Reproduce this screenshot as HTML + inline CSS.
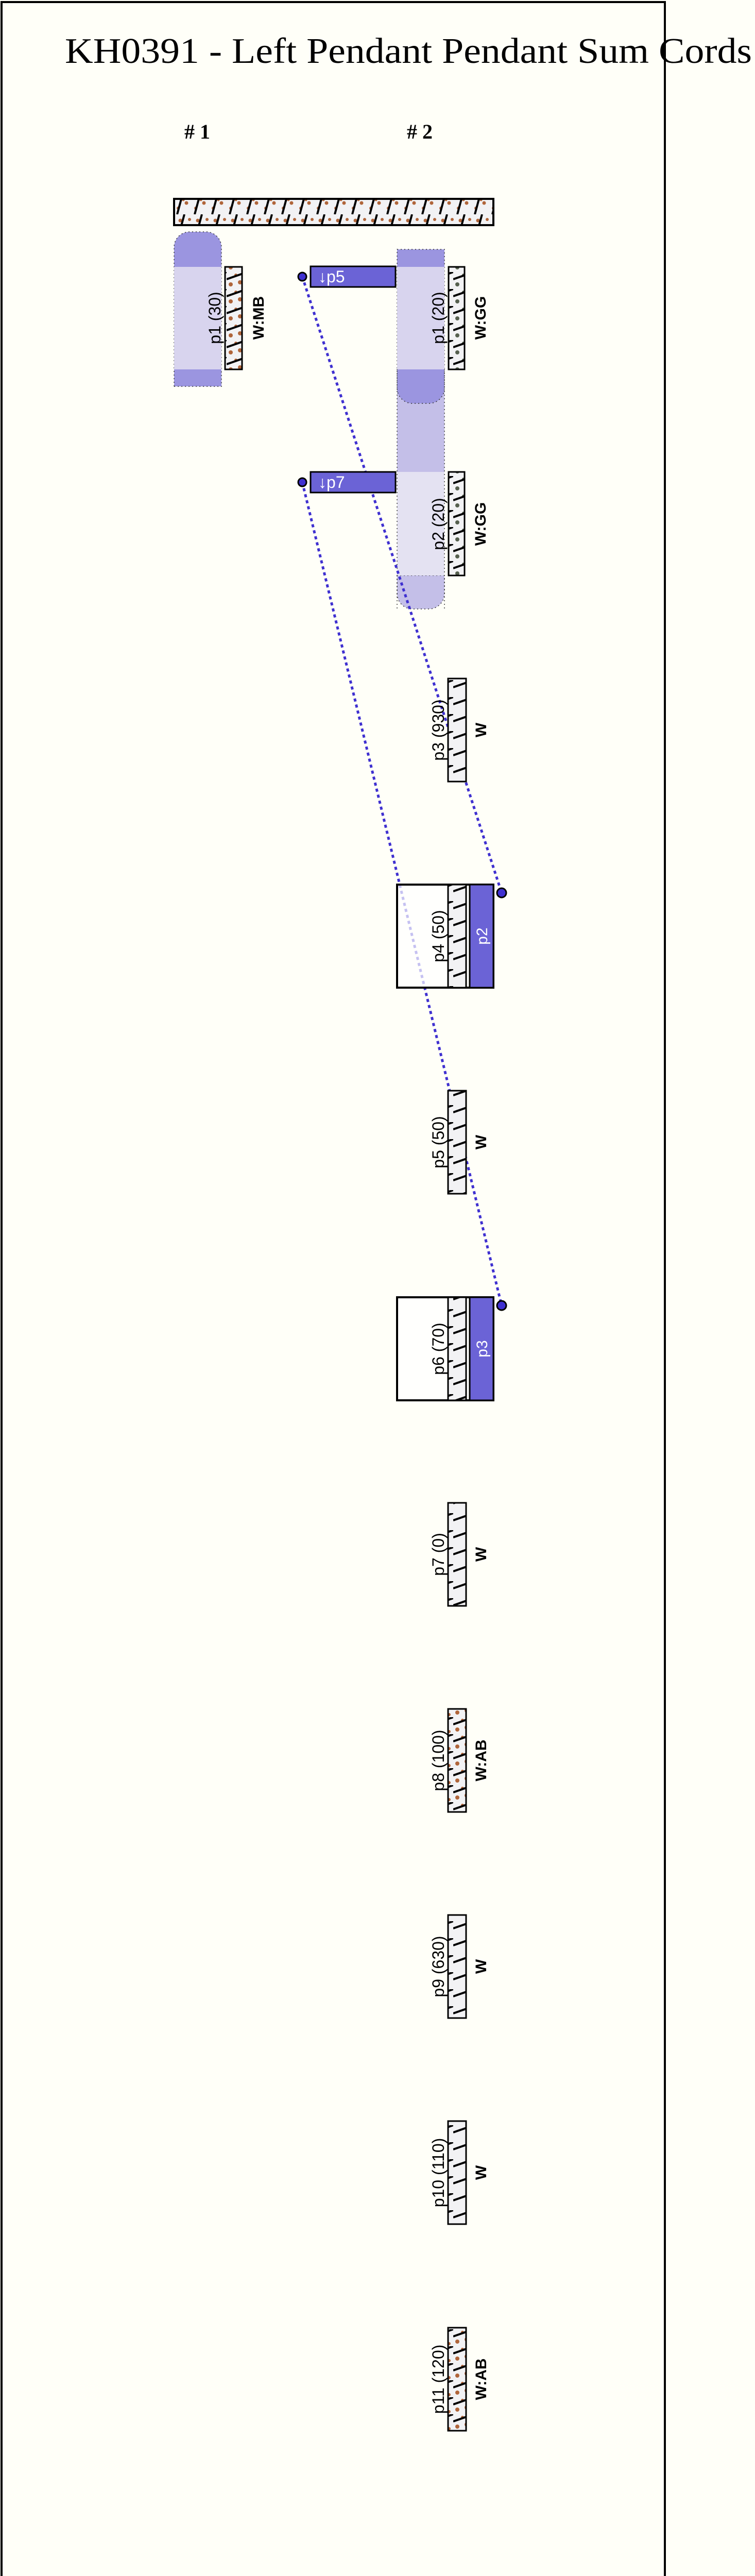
<!DOCTYPE html>
<html><head><meta charset="utf-8"><style>
html,body{margin:0;padding:0;background:#fffff8;width:1466px;height:5254px;overflow:hidden;}
svg{display:block;}
.lbl{font-family:"Liberation Sans",sans-serif;font-size:32px;fill:#000;}
.w{font-family:"Liberation Sans",sans-serif;font-size:30px;font-weight:bold;fill:#000;}
</style></head><body>
<svg width="1466" height="5254" viewBox="0 0 1466 5254" xmlns="http://www.w3.org/2000/svg" overflow="hidden">
<defs>
<pattern id="hw" width="40" height="33" patternUnits="userSpaceOnUse">
<rect width="40" height="33" fill="#f2f2f4"/>
<line x1="0" y1="14" x2="40" y2="0" stroke="#000" stroke-width="4"/>
</pattern>
<pattern id="hb" width="40" height="33" patternUnits="userSpaceOnUse">
<rect width="40" height="33" fill="#f2f2f4"/>
<circle cx="8" cy="24" r="4" fill="#b0653a"/><circle cx="26" cy="20" r="4" fill="#b0653a"/>
<circle cx="18" cy="6" r="3" fill="#b0653a"/><circle cx="32" cy="28" r="3" fill="#b0653a"/>
<line x1="0" y1="14" x2="40" y2="0" stroke="#000" stroke-width="4"/>
</pattern>
<pattern id="hg" width="40" height="33" patternUnits="userSpaceOnUse">
<rect width="40" height="33" fill="#f2f2f4"/>
<circle cx="8" cy="24" r="4" fill="#56604f"/><circle cx="26" cy="20" r="4" fill="#56604f"/>
<circle cx="20" cy="6" r="3" fill="#56604f"/>
<line x1="0" y1="14" x2="40" y2="0" stroke="#000" stroke-width="4"/>
</pattern>
<pattern id="hbar" width="34" height="52" patternUnits="userSpaceOnUse">
<rect width="34" height="52" fill="#f2f2f4"/>
<circle cx="10" cy="12" r="3.5" fill="#b0653a"/><circle cx="22" cy="30" r="3.5" fill="#b0653a"/>
<circle cx="6" cy="40" r="3" fill="#b0653a"/><circle cx="28" cy="10" r="3" fill="#b0653a"/>
<circle cx="16" cy="24" r="2.5" fill="#b0653a"/>
<line x1="4" y1="52" x2="18" y2="0" stroke="#000" stroke-width="4"/>
</pattern>
</defs>
<rect x="0" y="0" width="1466" height="5254" fill="#fffff8"/>
<rect x="3" y="4" width="1288" height="5246" fill="#fffff8" stroke="#000" stroke-width="4"/>
<text x="126" y="122" font-family="Liberation Serif,serif" font-size="70" textLength="1334" lengthAdjust="spacingAndGlyphs">KH0391 - Left Pendant Pendant Sum Cords</text>
<text x="358" y="269" font-family="Liberation Serif,serif" font-size="40" font-weight="bold">#&#160;1</text>
<text x="790" y="269" font-family="Liberation Serif,serif" font-size="40" font-weight="bold">#&#160;2</text>

<rect x="338" y="386" width="620" height="51" fill="url(#hbar)" stroke="#000" stroke-width="4"/>

<path d="M338,750 V480 a30,30 0 0 1 30,-30 h32 a30,30 0 0 1 30,30 V750 Z" fill="#9b95e0" stroke="#333" stroke-width="1.5" stroke-dasharray="2 5"/>
<rect x="338" y="518" width="92" height="199" fill="#d8d4ee"/>
<rect x="437" y="518" width="33" height="199" fill="url(#hb)" stroke="#000" stroke-width="3"/>
<text class="lbl" transform="translate(428,617) rotate(-90)" text-anchor="middle">p1 (30)</text>
<text class="w" transform="translate(512,617) rotate(-90)" text-anchor="middle">W:MB</text>

<rect x="771" y="717" width="92" height="200" fill="#c4bfe8"/>
<path d="M771,1117 V1152 a30,30 0 0 0 30,30 h32 a30,30 0 0 0 30,-30 V1117 Z" fill="#c4bfe8" stroke="#333" stroke-width="1.5" stroke-dasharray="2 5"/>
<rect x="771" y="916" width="92" height="201" fill="#e4e2f2"/>
<path d="M771,484 H863 V753 a30,30 0 0 1 -30,30 h-32 a30,30 0 0 1 -30,-30 Z" fill="#9b95e0" stroke="#333" stroke-width="1.5" stroke-dasharray="2 5"/>
<rect x="771" y="518" width="92" height="199" fill="#d8d4ee"/>
<line x1="771" y1="717" x2="771" y2="1182" stroke="#333" stroke-width="1.5" stroke-dasharray="2 5"/>
<line x1="863" y1="717" x2="863" y2="1182" stroke="#333" stroke-width="1.5" stroke-dasharray="2 5"/>
<rect x="871" y="518" width="31" height="199" fill="url(#hg)" stroke="#000" stroke-width="3"/>
<rect x="871" y="916" width="31" height="201" fill="url(#hg)" stroke="#000" stroke-width="3"/>
<text class="lbl" transform="translate(862,617) rotate(-90)" text-anchor="middle">p1 (20)</text>
<text class="w" transform="translate(943,617) rotate(-90)" text-anchor="middle">W:GG</text>
<text class="lbl" transform="translate(862,1017) rotate(-90)" text-anchor="middle">p2 (20)</text>
<text class="w" transform="translate(943,1017) rotate(-90)" text-anchor="middle">W:GG</text>

<line x1="587" y1="537" x2="974" y2="1733" stroke="#3f30d0" stroke-width="5" stroke-dasharray="6 6"/>
<line x1="587" y1="936" x2="974" y2="2534" stroke="#3f30d0" stroke-width="5" stroke-dasharray="6 6"/>

<rect x="603" y="517" width="165" height="40" fill="#6b63d6" stroke="#000" stroke-width="3"/>
<text x="618" y="548" font-family="Liberation Sans,sans-serif" font-size="32" fill="#fff">↓p5</text>
<circle cx="587" cy="537" r="8" fill="#3f30d0" stroke="#000" stroke-width="3"/>
<rect x="603" y="916" width="165" height="40" fill="#6b63d6" stroke="#000" stroke-width="3"/>
<text x="618" y="947" font-family="Liberation Sans,sans-serif" font-size="32" fill="#fff">↓p7</text>
<circle cx="587" cy="936" r="8" fill="#3f30d0" stroke="#000" stroke-width="3"/>

<rect x="870" y="1317" width="35" height="200" fill="url(#hw)" stroke="#000" stroke-width="3"/>
<text class="lbl" transform="translate(862,1417) rotate(-90)" text-anchor="middle">p3 (930)</text>
<text class="w" transform="translate(944,1417) rotate(-90)" text-anchor="middle">W</text>

<rect x="771" y="1717" width="187" height="200" fill="#fff" fill-opacity="0.7" stroke="#000" stroke-width="4"/>
<rect x="870" y="1717" width="35" height="200" fill="url(#hw)" stroke="#000" stroke-width="3"/>
<rect x="912" y="1717" width="46" height="200" fill="#6b63d6" stroke="#000" stroke-width="3"/>
<text class="lbl" transform="translate(862,1817) rotate(-90)" text-anchor="middle">p4 (50)</text>
<text transform="translate(946,1817) rotate(-90)" text-anchor="middle" font-family="Liberation Sans,sans-serif" font-size="30" fill="#fff">p2</text>
<circle cx="974" cy="1733" r="9" fill="#3f30d0" stroke="#000" stroke-width="3"/>

<rect x="870" y="2117" width="35" height="200" fill="url(#hw)" stroke="#000" stroke-width="3"/>
<text class="lbl" transform="translate(862,2217) rotate(-90)" text-anchor="middle">p5 (50)</text>
<text class="w" transform="translate(944,2217) rotate(-90)" text-anchor="middle">W</text>

<rect x="771" y="2518" width="187" height="200" fill="#fff" fill-opacity="0.7" stroke="#000" stroke-width="4"/>
<rect x="870" y="2518" width="35" height="200" fill="url(#hw)" stroke="#000" stroke-width="3"/>
<rect x="912" y="2518" width="46" height="200" fill="#6b63d6" stroke="#000" stroke-width="3"/>
<text class="lbl" transform="translate(862,2618) rotate(-90)" text-anchor="middle">p6 (70)</text>
<text transform="translate(946,2618) rotate(-90)" text-anchor="middle" font-family="Liberation Sans,sans-serif" font-size="30" fill="#fff">p3</text>
<circle cx="974" cy="2534" r="9" fill="#3f30d0" stroke="#000" stroke-width="3"/>

<rect x="870" y="2917" width="35" height="200" fill="url(#hw)" stroke="#000" stroke-width="3"/>
<text class="lbl" transform="translate(862,3017) rotate(-90)" text-anchor="middle">p7 (0)</text>
<text class="w" transform="translate(944,3017) rotate(-90)" text-anchor="middle">W</text>

<rect x="870" y="3317" width="35" height="200" fill="url(#hb)" stroke="#000" stroke-width="3"/>
<text class="lbl" transform="translate(862,3417) rotate(-90)" text-anchor="middle">p8 (100)</text>
<text class="w" transform="translate(944,3417) rotate(-90)" text-anchor="middle">W:AB</text>

<rect x="870" y="3717" width="35" height="200" fill="url(#hw)" stroke="#000" stroke-width="3"/>
<text class="lbl" transform="translate(862,3817) rotate(-90)" text-anchor="middle">p9 (630)</text>
<text class="w" transform="translate(944,3817) rotate(-90)" text-anchor="middle">W</text>

<rect x="870" y="4117" width="35" height="200" fill="url(#hw)" stroke="#000" stroke-width="3"/>
<text class="lbl" transform="translate(862,4217) rotate(-90)" text-anchor="middle">p10 (110)</text>
<text class="w" transform="translate(944,4217) rotate(-90)" text-anchor="middle">W</text>

<rect x="870" y="4518" width="35" height="200" fill="url(#hb)" stroke="#000" stroke-width="3"/>
<text class="lbl" transform="translate(862,4618) rotate(-90)" text-anchor="middle">p11 (120)</text>
<text class="w" transform="translate(944,4618) rotate(-90)" text-anchor="middle">W:AB</text>
</svg>
</body></html>
